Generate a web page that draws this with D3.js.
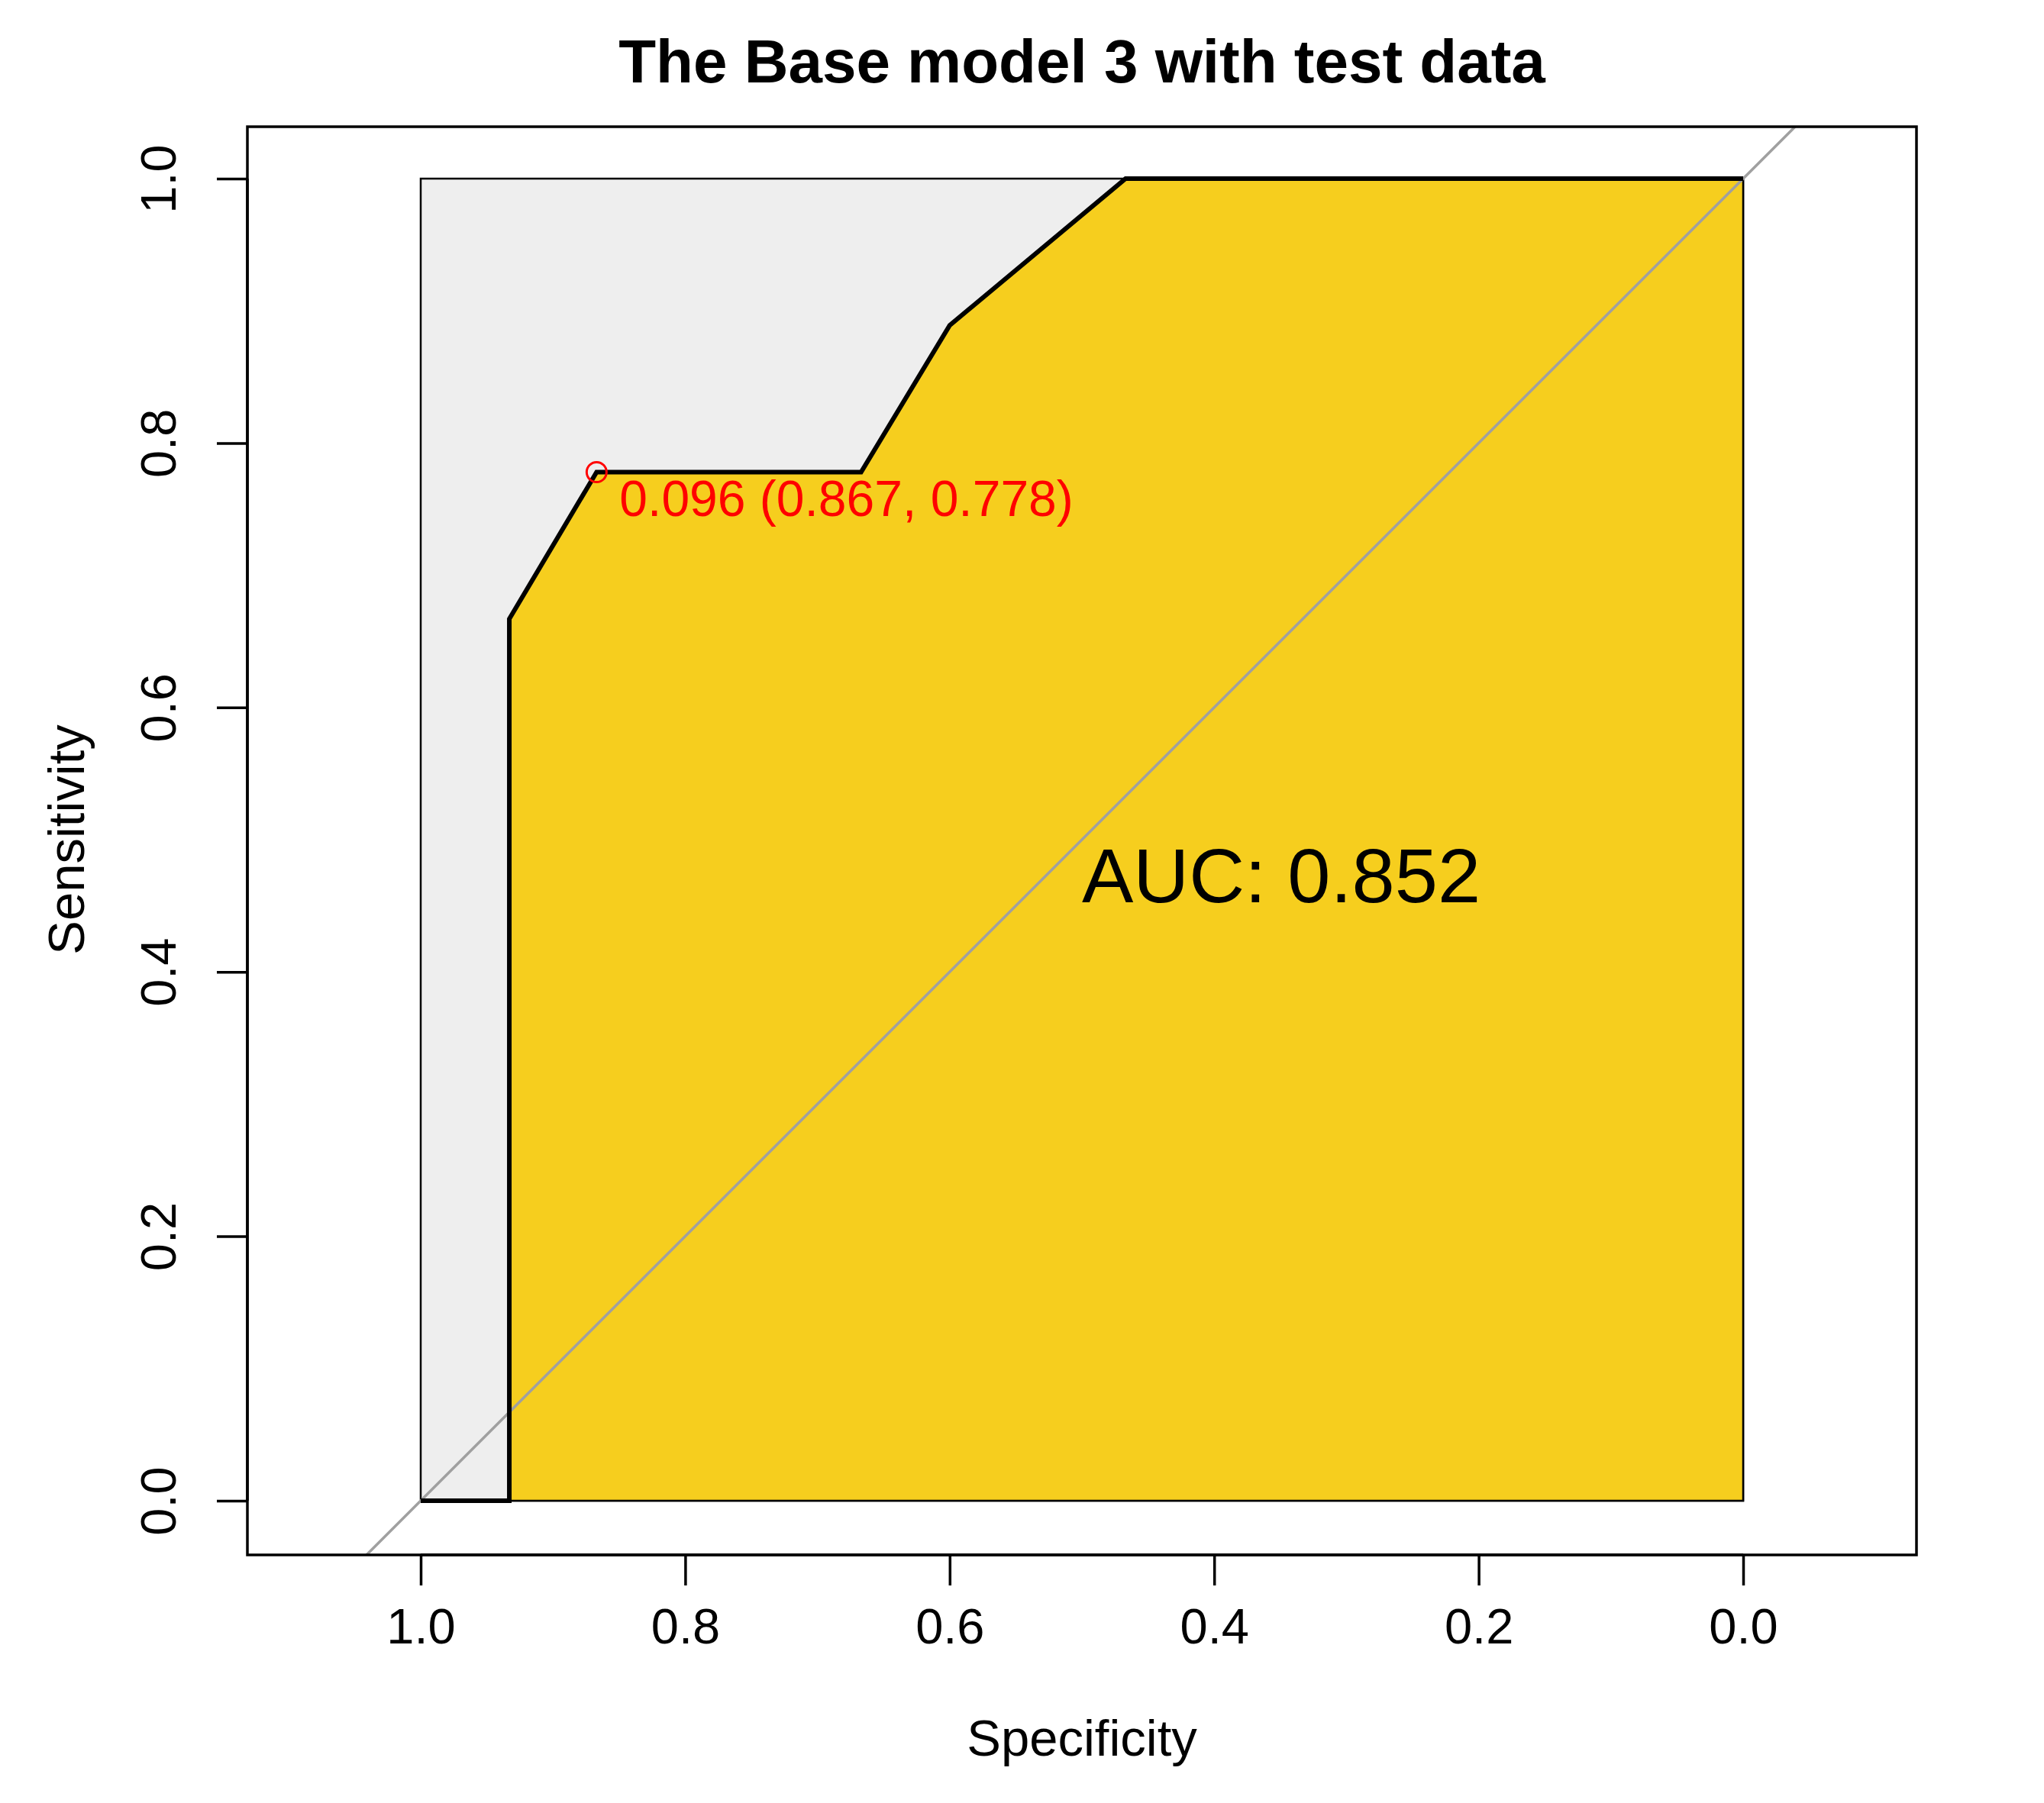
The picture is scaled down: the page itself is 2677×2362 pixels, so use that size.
<!DOCTYPE html>
<html><head><meta charset="utf-8">
<script src="https://cdn.jsdelivr.net/npm/d3@7"></script>
<style>body{margin:0;background:#fff}text{font-family:"Liberation Sans",Arial,sans-serif}</style>
</head><body>
<script>
// data
const specificity = [1, 0.933, 0.933, 0.867, 0.667, 0.6, 0.467, 0];
const sensitivity = [0, 0, 0.667, 0.778, 0.778, 0.889, 1, 1];
const ticks = [1.0, 0.8, 0.6, 0.4, 0.2, 0.0];
const best = {threshold: 0.096, sp: 0.867, se: 0.778};
const auc = 0.852;
const title = "The Base model 3 with test data";

const W = 2677, H = 2362;
const box = {l: 324, r: 2510, t: 166, b: 2037};
const svg = d3.select("body").append("svg").attr("width", W).attr("height", H);

const x = d3.scaleLinear().domain([1, 0]).range([551, 2283]);
const y = d3.scaleLinear().domain([0, 1]).range([1966, 234]);
const pts = specificity.map((s, i) => [s, sensitivity[i]]);

svg.append("defs").append("clipPath").attr("id", "clip")
   .append("rect").attr("x", box.l).attr("y", box.t)
   .attr("width", box.r - box.l).attr("height", box.b - box.t);

// grey max-area square
svg.append("rect")
   .attr("x", x(1)).attr("y", y(1))
   .attr("width", x(0) - x(1)).attr("height", y(0) - y(1))
   .attr("fill", "#eeeeee").attr("stroke", "#000").attr("stroke-width", 2.5);

// AUC polygon
const area = d3.area().x((d) => x(d[0])).y0(y(0)).y1((d) => y(d[1]));
svg.append("path").datum(pts).attr("d", area)
   .attr("fill", "#f6ce1e").attr("stroke", "#000").attr("stroke-width", 2.5);

// diagonal
svg.append("line").attr("clip-path", "url(#clip)")
   .attr("x1", x(1.2)).attr("y1", y(-0.2)).attr("x2", x(-0.2)).attr("y2", y(1.2))
   .attr("stroke", "#a0a0a0").attr("stroke-width", 3.5);

// ROC curve
svg.append("path").datum(pts)
   .attr("d", d3.line().x((d) => x(d[0])).y((d) => y(d[1])))
   .attr("fill", "none").attr("stroke", "#000").attr("stroke-width", 6);

// best threshold
svg.append("circle").attr("cx", x(best.sp)).attr("cy", y(best.se)).attr("r", 13)
   .attr("fill", "none").attr("stroke", "#ff0000").attr("stroke-width", 3);
svg.append("text").attr("x", x(best.sp) + 30).attr("y", y(best.se) + 57)
   .attr("fill", "#ff0000").attr("font-size", 66)
   .text(`${best.threshold.toFixed(3)} (${best.sp.toFixed(3)}, ${best.se.toFixed(3)})`);

svg.append("text").attr("x", 1417).attr("y", 1182).attr("font-size", 101)
   .text(`AUC: ${auc.toFixed(3)}`);

// frame
svg.append("rect").attr("x", box.l).attr("y", box.t)
   .attr("width", box.r - box.l).attr("height", box.b - box.t)
   .attr("fill", "none").attr("stroke", "#000").attr("stroke-width", 3.5);

// axes
const xAxis = d3.axisBottom(x).tickValues(ticks).tickFormat(d3.format(".1f")).tickSize(40).tickPadding(30);
const gx = svg.append("g").attr("transform", `translate(0,${box.b})`).call(xAxis);
gx.select(".domain").attr("d", `M${x(1)},0H${x(0)}`).attr("stroke-width", 3.5);
gx.selectAll("line").attr("stroke-width", 3.5);
gx.selectAll("text").attr("font-size", 65).attr("fill", "#000");

const yAxis = d3.axisLeft(y).tickValues(ticks).tickFormat(d3.format(".1f")).tickSize(40);
const gy = svg.append("g").attr("transform", `translate(${box.l},0)`).call(yAxis);
gy.select(".domain").attr("d", `M0,${y(0)}V${y(1)}`).attr("stroke-width", 3.5);
gy.selectAll("line").attr("stroke-width", 3.5);
gy.selectAll("text").attr("font-size", 65).attr("fill", "#000")
   .attr("text-anchor", "middle").attr("dy", 0).attr("x", 0).attr("y", 0)
   .attr("transform", "translate(-94,0) rotate(-90)");

// labels
svg.append("text").attr("x", 1417).attr("y", 108).attr("text-anchor", "middle")
   .attr("font-size", 80).attr("font-weight", "bold").text(title);
svg.append("text").attr("x", 1417).attr("y", 2300).attr("text-anchor", "middle")
   .attr("font-size", 67).text("Specificity");
svg.append("text").attr("transform", `translate(110,${y(0.5)}) rotate(-90)`)
   .attr("text-anchor", "middle").attr("font-size", 67).text("Sensitivity");
</script>
</body></html>
